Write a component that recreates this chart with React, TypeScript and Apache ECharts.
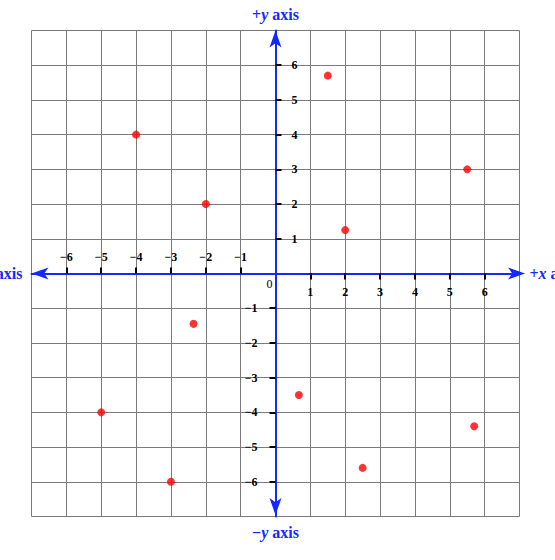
import React, { useEffect, useRef } from "react";
import * as echarts from "echarts";

const xPositiveTicks = [1, 2, 3, 4, 5, 6];
const xNegativeTicks = [-6, -5, -4, -3, -2, -1];
const yPositiveTicks = [1, 2, 3, 4, 5, 6];
const yNegativeTicks = [-6, -5, -4, -3, -2, -1];
const originTick = [0];

const pointX = [-4, -2, 1.5, 2, 5.5, -2.35, -5, -3, 0.67, 2.5, 5.7];
const pointY = [4, 2, 5.7, 1.25, 3, -1.45, -4, -6, -3.5, -5.6, -4.4];

const BLUE = "#1428ff";
const SERIF = "'Liberation Serif', 'Times New Roman', serif";

const GRID_LEFT = 31.5;
const GRID_TOP = 30.5;
const GRID_W = 488;
const GRID_H = 486;
const HALF_W = GRID_W / 2;
const HALF_H = GRID_H / 2;

const fmt = (v: number) => (v < 0 ? "\u2212" + Math.abs(v) : String(v));

const nameRich = {
  a: { fontFamily: SERIF, fontWeight: "bold", fontSize: 16, color: BLUE },
  i: { fontFamily: SERIF, fontWeight: "bold", fontStyle: "italic", fontSize: 16, color: BLUE },
};

const labelStyle = {
  fontFamily: SERIF,
  fontWeight: "bold",
  fontSize: 12,
  color: "#000",
};

const base = {
  type: "value",
  min: -7,
  max: 7,
  interval: 1,
  splitLine: { show: false },
};

const hiddenLine = { show: false, onZero: false };

const tickStyle = (values: number[]) => ({
  show: true,
  customValues: values,
  length: 6,
  lineStyle: { color: "#000", width: 2 },
});

export default function App() {
  const ref = useRef<HTMLDivElement>(null);
  useEffect(() => {
    if (!ref.current) return;
    const chart = echarts.init(ref.current, null, { renderer: "svg" });
    const option: any = {
      animation: false,
      grid: {
        left: GRID_LEFT,
        top: GRID_TOP,
        width: GRID_W,
        height: GRID_H,
        containLabel: false,
        outerBoundsMode: "none",
      },
      xAxis: [
        {
          ...base,
          position: "bottom",
          axisLine: {
            show: true,
            onZero: true,
            lineStyle: { color: BLUE, width: 2 },
            symbol: ["arrow", "arrow"],
            symbolSize: [9, 17],
            symbolOffset: [0, 5.5],
          },
          axisTick: { show: false },
          axisLabel: { show: false },
          splitLine: { show: true, lineStyle: { color: "#7a7a7a", width: 1 } },
        },
        {
          ...base,
          position: "bottom",
          offset: -HALF_H,
          axisLine: hiddenLine,
          axisTick: tickStyle(xPositiveTicks),
          axisLabel: {
            show: true,
            customValues: xPositiveTicks,
            formatter: fmt,
            margin: 12,
            ...labelStyle,
          },
          name: "{a|+}{i|x}{a| axis}",
          nameLocation: "end",
          nameGap: 10,
          nameTextStyle: { rich: nameRich },
        },
        {
          ...base,
          position: "top",
          offset: -HALF_H,
          axisLine: hiddenLine,
          axisTick: tickStyle(xNegativeTicks),
          axisLabel: {
            show: true,
            customValues: xNegativeTicks,
            formatter: fmt,
            margin: 11,
            ...labelStyle,
          },
          name: "{a|\u2212}{i|x}{a| axis}",
          nameLocation: "start",
          nameGap: 9,
          nameTextStyle: { rich: nameRich },
        },
        {
          ...base,
          position: "bottom",
          offset: -HALF_H,
          axisLine: hiddenLine,
          axisTick: { show: false },
          axisLabel: {
            show: true,
            customValues: originTick,
            formatter: fmt,
            margin: 4,
            padding: [0, 12, 0, 0],
            fontFamily: SERIF,
            fontWeight: "normal",
            fontSize: 12,
            color: "#000",
          },
        },
      ],
      yAxis: [
        {
          ...base,
          position: "right",
          axisLine: {
            show: true,
            onZero: true,
            lineStyle: { color: BLUE, width: 2 },
            symbol: ["arrow", "arrow"],
            symbolSize: [9, 17],
            symbolOffset: [1.5, 0],
          },
          axisTick: { show: false },
          axisLabel: { show: false },
          splitLine: { show: true, lineStyle: { color: "#7a7a7a", width: 1 } },
        },
        {
          ...base,
          position: "right",
          offset: -HALF_W,
          axisLine: hiddenLine,
          axisTick: tickStyle(yPositiveTicks),
          axisLabel: {
            show: true,
            customValues: yPositiveTicks,
            formatter: fmt,
            margin: 16,
            ...labelStyle,
          },
          name: "{a|+}{i|y}{a| axis}",
          nameLocation: "end",
          nameGap: 8,
          nameTextStyle: { rich: nameRich },
        },
        {
          ...base,
          position: "left",
          offset: -HALF_W,
          axisLine: hiddenLine,
          axisTick: tickStyle(yNegativeTicks),
          axisLabel: {
            show: true,
            customValues: yNegativeTicks,
            formatter: fmt,
            margin: 18,
            ...labelStyle,
          },
          name: "{a|\u2212}{i|y}{a| axis}",
          nameLocation: "start",
          nameGap: 8,
          nameTextStyle: { rich: nameRich },
        },
      ],
      series: [
        {
          type: "scatter",
          xAxisIndex: 0,
          yAxisIndex: 0,
          symbol: "circle",
          symbolSize: 8,
          itemStyle: { color: "#ff0000" },
          z: 5,
          data: pointX.map((x, i) => [x, pointY[i]]),
        },
      ],
    };
    chart.setOption(option);
    return () => chart.dispose();
  }, []);
  return (
    <div
      ref={ref}
      style={{ position: "absolute", left: 0, top: 0, width: 555, height: 560 }}
    />
  );
}
